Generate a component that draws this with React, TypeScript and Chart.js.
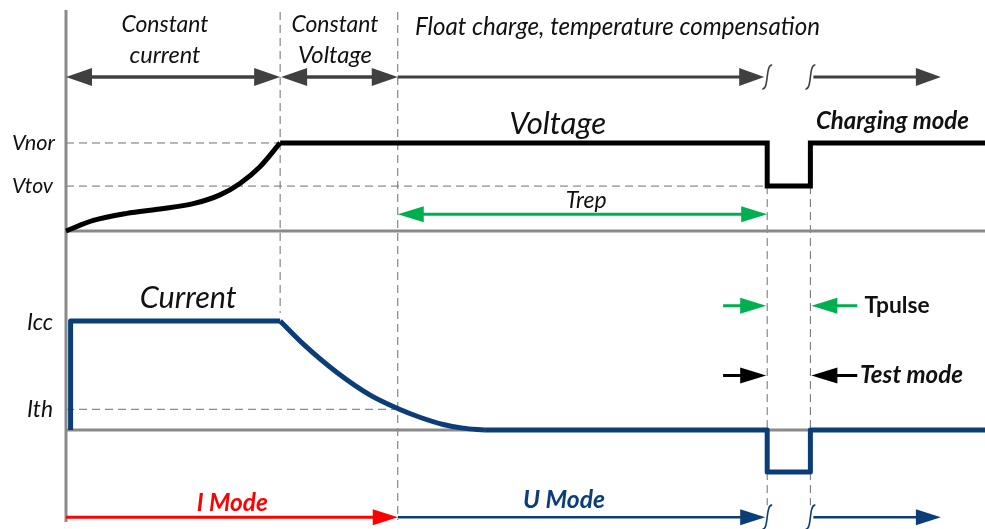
import React, { useEffect, useRef } from "react";
import { Chart, registerables } from "chart.js";

Chart.register(...registerables);

// ---- time markers (arbitrary time units, 0..100) ----
const T_START = 0;
const T_CC_END = 23.3;
const T_CV_END = 36.1;
const T_TEST_START = 76.3;
const T_TEST_END = 81.0;
const T_END = 100;
const T_ARROW_END = 95.2;

// ---- levels (normalised) ----
const V_NOR = 1.0;
const V_TOV = 0.51;
const I_CC = 1.0;
const I_TH = 0.19;

// ---- voltage curve ----
const voltageRiseT = [0, 2.97, 6.6, 10.23, 13.85, 16.76, 18.93, 21.11, 23.3];
const voltageRiseV = [0.0, 0.12, 0.2, 0.25, 0.31, 0.41, 0.54, 0.73, 1.0];
const voltageStepT = [23.3, 76.3, 76.3, 81.0, 81.0, 100];
const voltageStepV = [1, 1, 0.51, 0.51, 1, 1];

// ---- current curve ----
const currentCcT = [0.5, 0.5, 23.3];
const currentCcI = [0, 1, 1];
const currentDecayT = [23.3, 25.8, 29.45, 33.1, 36.15, 38.5, 41.05, 43.2, 45.5];
const currentDecayI = [1.0, 0.79, 0.53, 0.32, 0.195, 0.117, 0.05, 0.017, 0.0];
const currentFloatT = [45.5, 76.3, 76.3, 81.0, 81.0, 100];
const currentFloatI = [0, 0, -0.385, -0.385, 0, 0];

// ---- labels ----
const levelLabels = ["Vnor", "Vtov", "Icc", "Ith"];
const phaseLabels = ["Constant", "current", "Constant", "Voltage", "Float charge, temperature compensation"];
const modeLabels = ["I Mode", "U Mode"];

const FONT = "Lato, 'Open Sans', sans-serif";
const VOLT_COLOR = "#000000";
const CURR_COLOR = "#0b3e78";
const AXIS_COLOR = "#8a8a8a";
const DASH_COLOR = "#6e6e6e";
const ARROW_GRAY = "#404040";
const GREEN = "#00b050";
const RED = "#ff0000";

const pts = (xs: number[], ys: number[]) => xs.map((x, i) => ({ x, y: ys[i] }));

function fitText(ctx: CanvasRenderingContext2D, text: string, x: number, y: number, w: number, style: string, color: string, align: CanvasTextAlign = "center") {
  ctx.font = `${style} 20px ${FONT}`;
  const m = ctx.measureText(text).width;
  const size = (20 * w) / m;
  ctx.font = `${style} ${size.toFixed(2)}px ${FONT}`;
  ctx.fillStyle = color;
  ctx.textAlign = align;
  ctx.textBaseline = "middle";
  ctx.fillText(text, x, y);
}

function head(ctx: CanvasRenderingContext2D, tipX: number, y: number, dir: number, len: number, half: number, color: string) {
  ctx.beginPath();
  ctx.moveTo(tipX, y);
  ctx.lineTo(tipX - dir * len, y - half);
  ctx.lineTo(tipX - dir * len, y + half);
  ctx.closePath();
  ctx.fillStyle = color;
  ctx.fill();
}

function arrow(ctx: CanvasRenderingContext2D, x1: number, x2: number, y: number, color: string, lw: number, startHead: boolean, endHead: boolean, len = 25, half = 9) {
  const dir = x2 > x1 ? 1 : -1;
  const a = startHead ? x1 + dir * (len - 2) : x1;
  const b = endHead ? x2 - dir * (len - 2) : x2;
  ctx.save();
  ctx.strokeStyle = color;
  ctx.lineWidth = lw;
  ctx.lineCap = "butt";
  ctx.beginPath();
  ctx.moveTo(a, y);
  ctx.lineTo(b, y);
  ctx.stroke();
  if (endHead) head(ctx, x2, y, dir, len, half, color);
  if (startHead) head(ctx, x1, y, -dir, len, half, color);
  ctx.restore();
}

function squiggle(ctx: CanvasRenderingContext2D, x: number, y: number, color: string) {
  ctx.save();
  ctx.strokeStyle = color;
  ctx.lineWidth = 1.6;
  ctx.beginPath();
  ctx.moveTo(x - 5, y + 12);
  ctx.bezierCurveTo(x + 2, y + 13, x - 2, y - 13, x + 5, y - 12);
  ctx.stroke();
  ctx.restore();
}

function dashed(ctx: CanvasRenderingContext2D, x1: number, y1: number, x2: number, y2: number) {
  ctx.save();
  ctx.strokeStyle = DASH_COLOR;
  ctx.lineWidth = 1;
  ctx.setLineDash([8, 5]);
  ctx.beginPath();
  ctx.moveTo(x1, y1);
  ctx.lineTo(x2, y2);
  ctx.stroke();
  ctx.restore();
}

const diagramPlugin = {
  id: "diagram",
  beforeDatasetsDraw(chart: any) {
    const { ctx, chartArea, scales } = chart;
    const X = (t: number) => scales.x.getPixelForValue(t);
    const YV = (v: number) => scales.yV.getPixelForValue(v);
    const YI = (i: number) => scales.yI.getPixelForValue(i);
    ctx.save();
    dashed(ctx, X(T_START), YV(V_NOR), X(T_CC_END), YV(V_NOR));
    dashed(ctx, X(T_START), YV(V_TOV), X(T_TEST_START), YV(V_TOV));
    dashed(ctx, X(T_START), YI(I_TH), X(T_CV_END), YI(I_TH));
    dashed(ctx, X(T_CC_END), chartArea.top + 2, X(T_CC_END), YI(I_CC) - 8);
    dashed(ctx, X(T_CV_END), chartArea.top + 2, X(T_CV_END), chartArea.bottom - 2);
    dashed(ctx, X(T_TEST_START), YV(V_TOV), X(T_TEST_START), YI(-0.69));
    dashed(ctx, X(T_TEST_END), YV(V_TOV), X(T_TEST_END), YI(-0.69));
    ctx.strokeStyle = AXIS_COLOR;
    ctx.lineWidth = 3;
    ctx.beginPath();
    ctx.moveTo(X(T_START), chartArea.top);
    ctx.lineTo(X(T_START), chartArea.bottom);
    ctx.moveTo(X(T_START), YV(0));
    ctx.lineTo(X(T_END), YV(0));
    ctx.moveTo(X(T_START), YI(0));
    ctx.lineTo(X(T_END), YI(0));
    ctx.stroke();
    ctx.restore();
  },
  afterDatasetsDraw(chart: any) {
    const { ctx, scales } = chart;
    const X = (t: number) => scales.x.getPixelForValue(t);
    const YV = (v: number) => scales.yV.getPixelForValue(v);
    const YI = (i: number) => scales.yI.getPixelForValue(i);
    const ax = X(T_START);
    ctx.save();
    fitText(ctx, levelLabels[0], ax - 11, YV(V_NOR), 43, "italic", "#111", "right");
    fitText(ctx, levelLabels[1], ax - 13, YV(V_TOV), 41, "italic", "#111", "right");
    fitText(ctx, levelLabels[2], ax - 13, YI(I_CC) + 2, 26, "italic", "#111", "right");
    fitText(ctx, levelLabels[3], ax - 13, YI(I_TH), 26, "italic", "#111", "right");

    const yTop = YV(1.75);
    arrow(ctx, X(T_START), X(T_CC_END), yTop, ARROW_GRAY, 3.5, true, true, 26, 9);
    arrow(ctx, X(T_CC_END) + 1, X(T_CV_END), yTop, ARROW_GRAY, 3.5, true, true, 26, 9);
    arrow(ctx, X(T_CV_END), X(T_TEST_START) - 3, yTop, ARROW_GRAY, 3, false, true, 25, 9);
    squiggle(ctx, X(T_TEST_START), yTop, ARROW_GRAY);
    squiggle(ctx, X(T_TEST_END), yTop, ARROW_GRAY);
    arrow(ctx, X(T_TEST_END) + 3, X(T_ARROW_END), yTop, ARROW_GRAY, 3, false, true, 25, 9);

    fitText(ctx, phaseLabels[0], X(10.77), YV(2.35), 87, "italic", "#111");
    fitText(ctx, phaseLabels[1], X(10.77), YV(2.0), 71, "italic", "#111");
    fitText(ctx, phaseLabels[2], X(29.27), YV(2.35), 87, "italic", "#111");
    fitText(ctx, phaseLabels[3], X(29.27), YV(2.0), 74, "italic", "#111");
    fitText(ctx, phaseLabels[4], X(37.98), YV(2.32), 405, "italic", "#111", "left");

    fitText(ctx, "Voltage", X(53.5), YV(1.22), 97, "italic", "#111");
    fitText(ctx, "Charging mode", X(81.6), YV(1.25), 153, "italic bold", "#111", "left");

    arrow(ctx, X(T_CV_END), X(T_TEST_START), YV(0.19), GREEN, 3, true, true, 26, 8);
    fitText(ctx, "Trep", X(56.6), YV(0.35), 41, "italic", "#111");

    fitText(ctx, "Current", X(13.3), YI(1.21), 97, "italic", "#111");

    arrow(ctx, X(71.5), X(T_TEST_START) - 1, YI(1.14), GREEN, 3, false, true, 26, 8);
    arrow(ctx, X(86.1), X(T_TEST_END) + 1, YI(1.14), GREEN, 3, false, true, 26, 8);
    fitText(ctx, "Tpulse", X(86.9), YI(1.14), 65, "bold", "#111", "left");
    arrow(ctx, X(71.5), X(T_TEST_START) - 1, YI(0.5), "#000", 3, false, true, 26, 8);
    arrow(ctx, X(86.1), X(T_TEST_END) + 1, YI(0.5), "#000", 3, false, true, 26, 8);
    fitText(ctx, "Test mode", X(86.4), YI(0.5), 103, "italic bold", "#111", "left");

    const yBot = YI(-0.8);
    arrow(ctx, X(T_START), X(T_CV_END), yBot, RED, 3, false, true, 25, 8);
    arrow(ctx, X(T_CV_END), X(T_TEST_START) - 2, yBot, CURR_COLOR, 2.5, false, true, 25, 8);
    squiggle(ctx, X(T_TEST_START), yBot, CURR_COLOR);
    squiggle(ctx, X(T_TEST_END), yBot, CURR_COLOR);
    arrow(ctx, X(T_TEST_END) + 3, X(T_ARROW_END), yBot, CURR_COLOR, 2.5, false, true, 25, 8);
    fitText(ctx, modeLabels[0], X(18.1), YI(-0.67), 71, "italic bold", RED);
    fitText(ctx, modeLabels[1], X(54.2), YI(-0.64), 82, "italic bold", CURR_COLOR);
    ctx.restore();
  },
};

export default function App() {
  const ref = useRef<HTMLCanvasElement | null>(null);
  useEffect(() => {
    document.body.style.margin = "0";
    const canvas = ref.current;
    if (!canvas) return;
    const base = { pointRadius: 0, borderWidth: 5, fill: false, clip: false as any, borderCapStyle: "butt" as const };
    const chart = new Chart(canvas, {
      type: "line",
      data: {
        datasets: [
          { ...base, label: "Voltage rise", data: pts(voltageRiseT, voltageRiseV), yAxisID: "yV", borderColor: VOLT_COLOR, cubicInterpolationMode: "monotone", borderJoinStyle: "round" },
          { ...base, label: "Voltage", data: pts(voltageStepT, voltageStepV), yAxisID: "yV", borderColor: VOLT_COLOR, tension: 0, borderJoinStyle: "miter" },
          { ...base, label: "Current CC", data: pts(currentCcT, currentCcI), yAxisID: "yI", borderColor: CURR_COLOR, tension: 0, borderJoinStyle: "round" },
          { ...base, label: "Current decay", data: pts(currentDecayT, currentDecayI), yAxisID: "yI", borderColor: CURR_COLOR, cubicInterpolationMode: "monotone", borderJoinStyle: "round" },
          { ...base, label: "Current float", data: pts(currentFloatT, currentFloatI), yAxisID: "yI", borderColor: CURR_COLOR, tension: 0, borderJoinStyle: "round" },
        ] as any,
      },
      options: {
        responsive: false,
        maintainAspectRatio: false,
        animation: false,
        events: [],
        layout: { padding: { left: 66, right: 0, top: 10, bottom: 7 } },
        plugins: { legend: { display: false }, tooltip: { enabled: false } },
        scales: {
          x: { type: "linear", min: T_START, max: T_END, display: false },
          yV: { type: "linear", min: -3.307, max: 2.511, display: false },
          yI: { type: "linear", min: -0.844, max: 3.853, display: false },
        },
      },
      plugins: [diagramPlugin],
    });
    return () => chart.destroy();
  }, []);
  return (
    <div style={{ width: 985, height: 529, background: "#fff" }}>
      <canvas ref={ref} width={985} height={529} style={{ display: "block" }} />
    </div>
  );
}
